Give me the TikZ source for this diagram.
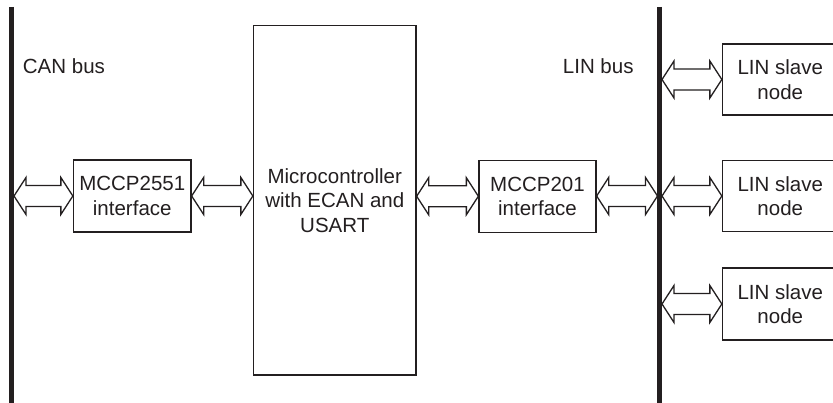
\documentclass[tikz,border=0pt]{standalone}
\usepackage{fontspec}
\setmainfont{Liberation Sans}
\usetikzlibrary{calc}
\definecolor{ink}{HTML}{231F20}
\tikzset{
  box/.style={draw=ink, line width=1.3pt, fill=white, inner sep=0pt, align=center,
    font=\fontsize{20.5}{24.5}\selectfont, text=ink},
  lbl/.style={inner sep=0pt, font=\fontsize{20.5}{24.5}\selectfont, text=ink},
  bus/.style={draw=ink, line width=4.7pt},
  blockarr/.style={draw=ink, line width=1.3pt, fill=white, line join=miter},
}
\newcommand{\dblarrow}[2]{%
  \draw[blockarr] let \p1=(#1), \p2=(#2) in
  (\x1,\y2) -- (\x1+12pt,\y2+18.5pt) -- (\x1+12pt,\y2+10.5pt) -- (\x2-12pt,\y2+10.5pt)
  -- (\x2-12pt,\y2+18.5pt) -- (\x2,\y2) -- (\x2-12pt,\y2-18.5pt) -- (\x2-12pt,\y2-10.5pt)
  -- (\x1+12pt,\y2-10.5pt) -- (\x1+12pt,\y2-18.5pt) -- cycle;}
\begin{document}
\begin{tikzpicture}[x=1pt,y=-1pt]
\clip (0,0) rectangle (833,403);
\fill[white] (0,0) rectangle (833,403);
% buses
\coordinate (canT) at (11.7,7);
\coordinate (canB) at (11.7,405);
\coordinate (linT) at (659.7,7);
\coordinate (linB) at (659.7,405);
\draw[bus] (canT) -- (canB);
\draw[bus] (linT) -- (linB);
\node[lbl, anchor=base west] (canlbl) at (22.7,73.3) {CAN bus};
\node[lbl, anchor=base west] (linlbl) at (562.7,73.3) {LIN bus};
% boxes
\node[box, minimum width=117.5, minimum height=72] (can) at (132.25,196) {MCCP2551\\interface};
\node[box, minimum width=162.5, minimum height=349.5] (mcu) at (334.75,200.25) {Microcontroller\\with ECAN and\\USART};
\node[box, minimum width=117, minimum height=72] (lin) at (537.5,196.25) {MCCP201\\interface};
\node[box, minimum width=115.5, minimum height=71] (s1) at (780.25,79.5) {LIN slave\\node};
\node[box, minimum width=115.5, minimum height=71] (s2) at (780.25,196) {LIN slave\\node};
\node[box, minimum width=115.5, minimum height=72] (s3) at (780.25,304) {LIN slave\\node};
% bus attach points
\coordinate (canR) at (14,196);
\coordinate (linL) at (657.5,196);
\coordinate (linR1) at (662,79.5);
\coordinate (linR2) at (662,196);
\coordinate (linR3) at (662,304);
% arrows
\dblarrow{canR}{can.west}
\dblarrow{can.east}{$(mcu.west|-can.east)$}
\dblarrow{$(mcu.east|-lin.west)$}{lin.west}
\dblarrow{lin.east}{linL}
\dblarrow{linR1}{s1.west}
\dblarrow{linR2}{s2.west}
\dblarrow{linR3}{s3.west}
\end{tikzpicture}
\end{document}
